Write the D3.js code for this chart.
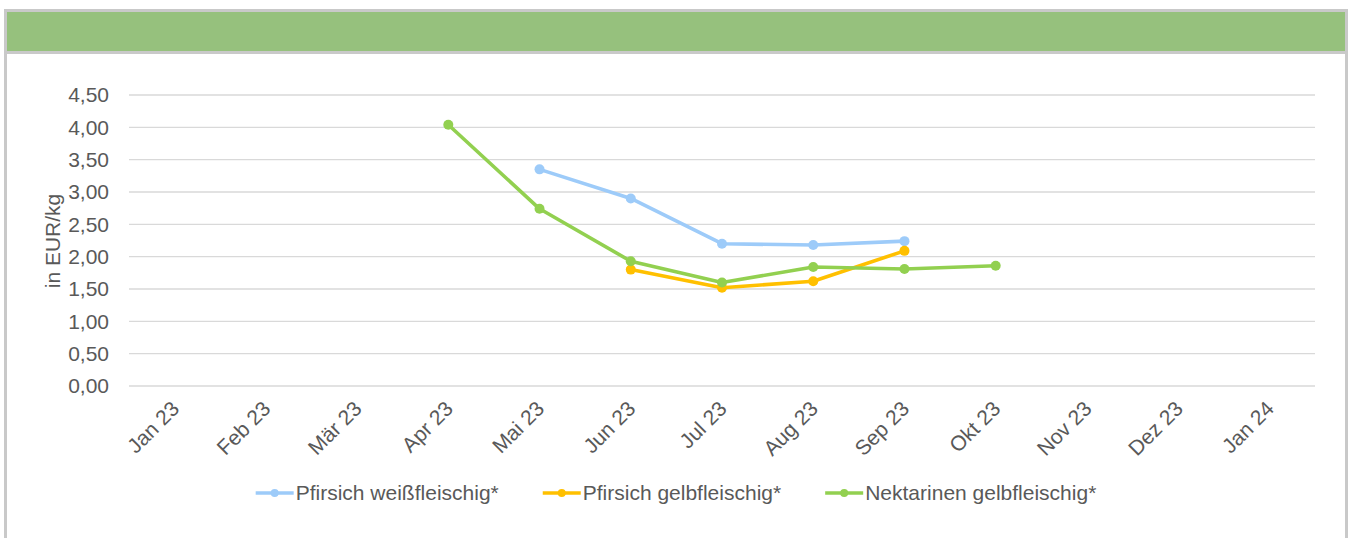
<!DOCTYPE html>
<html>
<head>
<meta charset="utf-8">
<script src="https://cdn.jsdelivr.net/npm/d3@7"></script>
<style>
  html, body { margin: 0; padding: 0; background: #fff; }
  svg { display: block; font-family: "Liberation Sans", Arial, sans-serif; }
</style>
</head>
<body>
<div id="chart"></div>
<script>
// Monatskategorien und Preise (EUR/kg)
const months = ['Jan 23', 'Feb 23', 'Mär 23', 'Apr 23', 'Mai 23', 'Jun 23', 'Jul 23',
  'Aug 23', 'Sep 23', 'Okt 23', 'Nov 23', 'Dez 23', 'Jan 24'];
const yTicks = [0, 0.5, 1, 1.5, 2, 2.5, 3, 3.5, 4, 4.5];

const pfirsichWeiss = [null, null, null, null, 3.35, 2.90, 2.20, 2.18, 2.24, null, null, null, null];
const pfirsichGelb = [null, null, null, null, null, 1.80, 1.52, 1.62, 2.09, null, null, null, null];
const nektarinenGelb = [null, null, null, 4.04, 2.74, 1.93, 1.60, 1.84, 1.81, 1.86, null, null, null];

const seriesNames = ['Pfirsich weißfleischig*', 'Pfirsich gelbfleischig*', 'Nektarinen gelbfleischig*'];
const seriesColors = ['#9dcbf9', '#ffc000', '#92d050'];
const seriesData = [pfirsichWeiss, pfirsichGelb, nektarinenGelb];

const W = 1351, H = 538;
const m = { top: 95, right: 36, bottom: 152, left: 129 };
const w = W - m.left - m.right, h = H - m.top - m.bottom;
const fs = '21px';

const svg = d3.select('#chart').append('svg').attr('width', W).attr('height', H);

// Rahmen + grüner Kopfbalken
svg.append('rect').attr('x', 5.5).attr('y', 10.5).attr('width', 1341).attr('height', 540)
  .attr('fill', '#fff').attr('stroke', '#c9c9c9').attr('stroke-width', 3);
svg.append('rect').attr('x', 7).attr('y', 12).attr('width', 1338).attr('height', 39)
  .attr('fill', '#96c17d');
svg.append('line').attr('x1', 7).attr('x2', 1345).attr('y1', 52.5).attr('y2', 52.5)
  .attr('stroke', '#c9c9c9').attr('stroke-width', 3);

const g = svg.append('g').attr('transform', `translate(${m.left},${m.top})`);

const x = d3.scaleBand().domain(months).range([0, w]);
const y = d3.scaleLinear().domain([0, 4.5]).range([h, 0]);

// Gitterlinien
g.selectAll('.gy').data(yTicks).join('line')
  .attr('x1', 0).attr('x2', w)
  .attr('y1', d => y(d)).attr('y2', d => y(d))
  .attr('stroke', '#d9d9d9').attr('stroke-width', 1.3);

// Y-Achse
g.append('g')
  .call(d3.axisLeft(y).tickValues(yTicks).tickSize(0).tickPadding(20)
    .tickFormat(d => d3.format('.2f')(d).replace('.', ',')))
  .call(a => a.select('.domain').remove())
  .selectAll('text').attr('fill', '#595959').style('font-size', fs)
  .style('font-family', '"Liberation Sans", Arial, sans-serif');

svg.append('text')
  .attr('transform', `translate(60,241) rotate(-90)`)
  .attr('text-anchor', 'middle')
  .attr('fill', '#595959').style('font-size', fs)
  .text('in EUR/kg');

// X-Achse (Beschriftung 45° gedreht)
g.append('g').attr('transform', `translate(0,${h})`)
  .call(d3.axisBottom(x).tickSize(0).tickPadding(0))
  .call(a => a.select('.domain').remove())
  .selectAll('text')
  .attr('fill', '#595959').style('font-size', fs)
  .style('font-family', '"Liberation Sans", Arial, sans-serif')
  .attr('text-anchor', 'end')
  .attr('dy', 0)
  .attr('transform', 'translate(6,24) rotate(-45)');

// Linien und Punkte
const line = d3.line()
  .defined(d => d.v != null)
  .x(d => x(d.m) + x.bandwidth() / 2)
  .y(d => y(d.v));

seriesData.forEach((vals, i) => {
  const pts = months.map((mo, j) => ({ m: mo, v: vals[j] }));
  g.append('path').datum(pts)
    .attr('d', line).attr('fill', 'none')
    .attr('stroke', seriesColors[i]).attr('stroke-width', 3.6)
    .attr('stroke-linejoin', 'round');
  g.selectAll(`.pt${i}`).data(pts.filter(d => d.v != null)).join('circle')
    .attr('cx', d => x(d.m) + x.bandwidth() / 2)
    .attr('cy', d => y(d.v))
    .attr('r', 5).attr('fill', seriesColors[i]);
});

// Legende (zentriert)
const leg = svg.append('g');
let lx = 0;
seriesNames.forEach((name, i) => {
  const it = leg.append('g').attr('transform', `translate(${lx},0)`);
  it.append('line').attr('x1', 0).attr('x2', 38).attr('y1', 0).attr('y2', 0)
    .attr('stroke', seriesColors[i]).attr('stroke-width', 3.6);
  it.append('circle').attr('cx', 19).attr('cy', 0).attr('r', 4).attr('fill', seriesColors[i]);
  const t = it.append('text').attr('x', 40).attr('y', 7)
    .attr('fill', '#595959').style('font-size', fs)
    .text(name);
  lx += 40 + t.node().getComputedTextLength() + (i < seriesNames.length - 1 ? 44 : 0);
});
leg.attr('transform', `translate(${676 - lx / 2},493)`);
</script>
</body>
</html>
